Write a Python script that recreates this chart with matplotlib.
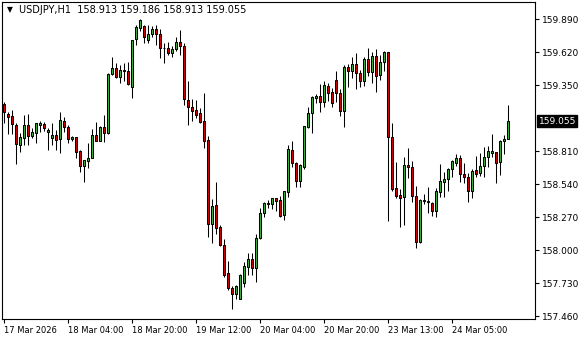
import matplotlib
matplotlib.use("Agg")
import matplotlib.pyplot as plt
import numpy as np

symbol = "USDJPY,H1"

opens = [
    159.195, 159.113, 159.097, 159.024, 158.860, 158.917, 159.024, 158.933, 158.958, 159.024,
    159.032, 158.966, 158.917, 158.942, 158.909, 159.056, 159.007, 158.909, 158.925, 158.811,
    158.688, 158.729, 158.754, 158.942, 158.893, 159.007, 158.958, 159.441, 159.490, 159.416,
    159.465, 159.465, 159.334, 159.727, 159.817, 159.833, 159.719, 159.768, 159.809, 159.768,
    159.650, 159.653, 159.612, 159.645, 159.702, 159.670, 159.228, 159.171, 159.146, 159.121,
    159.056, 158.901, 158.214, 158.369, 158.189, 158.042, 157.813, 157.690, 157.641, 157.600,
    157.731, 157.862, 157.927, 157.854, 158.099, 158.304, 158.377, 158.377, 158.426, 158.410,
    158.287, 158.475, 158.819, 158.713, 158.565, 158.680, 159.007, 159.121, 159.244, 159.261,
    159.212, 159.342, 159.293, 159.392, 159.285, 159.138, 159.498, 159.465, 159.522, 159.449,
    159.383, 159.563, 159.457, 159.588, 159.432, 159.539, 159.621, 158.925, 158.508, 158.451,
    158.434, 158.696, 158.680, 158.443, 158.066, 158.410, 158.405, 158.385, 158.320, 158.475,
    158.557, 158.582, 158.663, 158.713, 158.754, 158.623, 158.598, 158.484, 158.655, 158.631,
    158.688, 158.762, 158.794, 158.802, 158.721, 158.893, 158.913,
]
highs = [
    159.212, 159.130, 159.146, 159.040, 158.958, 159.105, 159.113, 158.999, 159.040, 159.056,
    159.048, 158.999, 159.040, 158.983, 159.130, 159.089, 159.024, 158.933, 158.925, 158.819,
    158.737, 158.876, 158.991, 159.048, 159.015, 159.105, 159.449, 159.580, 159.531, 159.514,
    159.531, 159.539, 159.719, 159.842, 159.890, 159.842, 159.842, 159.833, 159.842, 159.809,
    159.694, 159.702, 159.670, 159.743, 159.801, 159.694, 159.383, 159.236, 159.228, 159.161,
    159.285, 158.933, 158.418, 158.557, 158.205, 158.091, 157.911, 157.707, 157.715, 157.805,
    157.903, 157.976, 157.976, 158.132, 158.344, 158.394, 158.410, 158.426, 158.426, 158.443,
    158.484, 158.860, 158.893, 158.721, 158.704, 159.015, 159.171, 159.261, 159.277, 159.359,
    159.383, 159.367, 159.326, 159.465, 159.318, 159.514, 159.522, 159.580, 159.612, 159.473,
    159.580, 159.653, 159.621, 159.645, 159.596, 159.629, 159.621, 159.040, 158.721, 158.500,
    158.762, 158.835, 158.729, 158.525, 158.418, 158.459, 158.516, 158.394, 158.508, 158.704,
    158.639, 158.672, 158.737, 158.786, 158.778, 158.713, 158.631, 158.663, 158.770, 158.794,
    158.844, 158.852, 158.950, 158.802, 158.901, 158.942, 159.186,
]
lows = [
    159.040, 158.950, 158.950, 158.704, 158.802, 158.860, 158.860, 158.917, 158.876, 158.966,
    158.974, 158.819, 158.860, 158.819, 158.794, 158.966, 158.876, 158.893, 158.754, 158.639,
    158.557, 158.672, 158.754, 158.893, 158.893, 158.884, 158.950, 159.432, 159.408, 159.367,
    159.383, 159.351, 159.244, 159.678, 159.792, 159.694, 159.694, 159.743, 159.678, 159.572,
    159.531, 159.596, 159.580, 159.629, 159.596, 159.187, 159.024, 159.056, 159.081, 159.040,
    158.835, 158.107, 158.058, 158.132, 158.034, 157.780, 157.674, 157.518, 157.600, 157.600,
    157.698, 157.796, 157.796, 157.739, 158.091, 158.271, 158.344, 158.336, 158.320, 158.271,
    158.246, 158.434, 158.680, 158.516, 158.516, 158.663, 158.999, 158.958, 159.203, 159.130,
    159.171, 159.220, 159.171, 159.212, 159.097, 159.007, 159.334, 159.408, 159.318, 159.334,
    159.342, 159.424, 159.367, 159.293, 159.392, 159.465, 158.238, 158.484, 158.426, 158.189,
    158.205, 158.590, 158.394, 158.017, 158.058, 158.377, 158.304, 158.279, 158.271, 158.434,
    158.434, 158.484, 158.598, 158.688, 158.557, 158.549, 158.394, 158.426, 158.598, 158.606,
    158.598, 158.680, 158.762, 158.549, 158.614, 158.786, 158.913,
]
closes = [
    159.130, 159.089, 159.032, 158.868, 158.925, 159.024, 158.933, 158.966, 159.040, 159.040,
    158.999, 158.983, 158.942, 158.901, 159.064, 159.007, 158.909, 158.925, 158.802, 158.688,
    158.737, 158.754, 158.942, 158.893, 159.007, 158.958, 159.441, 159.490, 159.416, 159.473,
    159.473, 159.359, 159.719, 159.825, 159.882, 159.743, 159.768, 159.809, 159.768, 159.653,
    159.650, 159.612, 159.645, 159.702, 159.670, 159.236, 159.171, 159.138, 159.105, 159.048,
    158.893, 158.214, 158.361, 158.181, 158.042, 157.796, 157.690, 157.641, 157.707, 157.796,
    157.870, 157.927, 157.854, 158.099, 158.304, 158.385, 158.385, 158.426, 158.402, 158.279,
    158.484, 158.827, 158.713, 158.565, 158.696, 159.015, 159.121, 159.252, 159.261, 159.212,
    159.351, 159.285, 159.203, 159.285, 159.138, 159.498, 159.465, 159.522, 159.449, 159.383,
    159.563, 159.457, 159.588, 159.424, 159.539, 159.621, 158.925, 158.500, 158.443, 158.426,
    158.696, 158.680, 158.443, 158.066, 158.410, 158.405, 158.394, 158.320, 158.484, 158.565,
    158.582, 158.663, 158.729, 158.754, 158.623, 158.598, 158.484, 158.647, 158.623, 158.688,
    158.762, 158.811, 158.811, 158.713, 158.893, 158.909, 159.055,
]

# time axis labels, one every 16 bars
time_labels = ["17 Mar 2026", "18 Mar 04:00", "18 Mar 20:00", "19 Mar 12:00",
               "20 Mar 04:00", "20 Mar 20:00", "23 Mar 13:00", "24 Mar 05:00"]
price_ticks = [157.46, 157.73, 158.00, 158.27, 158.54, 158.81, 159.35, 159.62, 159.89]

o = np.array(opens)
h = np.array(highs)
l = np.array(lows)
c = np.array(closes)
x = np.arange(len(o))

colors = np.where(c > o, "#3cb43c", np.where(c < o, "#d40000", "black"))

plt.rcParams["font.family"] = "DejaVu Sans"

fig = plt.figure(figsize=(5.8, 3.4), dpi=100)
ax = fig.add_axes([2 / 580, 21 / 340, 533 / 580, 317 / 340])

ax.vlines(x, l, h, color="black", linewidth=0.75, zorder=2)
ax.bar(x, np.abs(c - o), bottom=np.minimum(o, c), width=0.5, color=colors,
       edgecolor="black", linewidth=0.75, zorder=3)

ax.set_xlim(-0.375, 132.875)
ax.set_ylim(157.437, 160.030)

for s in ax.spines.values():
    s.set_linewidth(0.8)
    s.set_color("black")

ax.yaxis.tick_right()
ax.set_yticks(price_ticks)
ax.set_yticklabels(["%.3f" % p for p in price_ticks])
ax.tick_params(axis="y", length=3, width=0.8, labelsize=6.5, pad=2)

ax.set_xticks(np.arange(len(time_labels)) * 16)
ax.set_xticklabels(time_labels)
ax.tick_params(axis="x", length=3, width=0.8, labelsize=6, pad=2)
plt.setp(ax.get_xticklabels(), ha="left")

# current price label
ax.annotate("%.3f" % closes[-1], xy=(1, closes[-1]), xycoords=("axes fraction", "data"),
            xytext=(2.5, 0), textcoords="offset points", ha="left", va="center",
            fontsize=6.5, color="white", annotation_clip=False,
            bbox=dict(boxstyle="square,pad=0.18", fc="black", ec="black"))

# header
fig.text(7 / 580, 1 - 10 / 340, "\u25bc", fontsize=5.5, va="center", ha="left")
fig.text(19 / 580, 1 - 10 / 340,
         "%s  %.3f %.3f %.3f %.3f" % (symbol, opens[-1], highs[-1], lows[-1], closes[-1]),
         fontsize=7, va="center", ha="left")

fig.savefig("out.png", dpi=100)
